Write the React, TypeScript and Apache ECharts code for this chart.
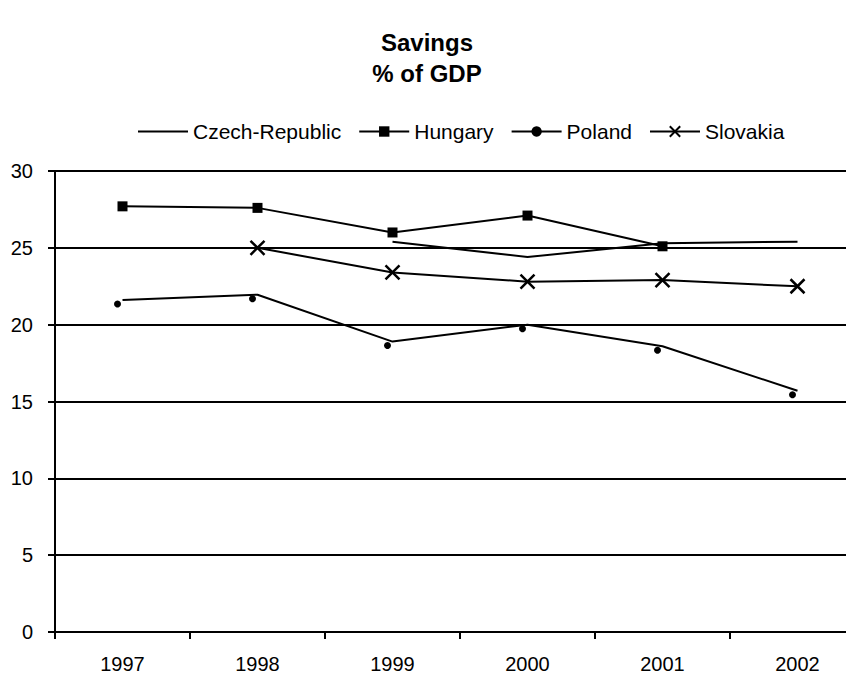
import React, { useEffect, useRef } from "react";
import * as echarts from "echarts";

const years = ["1997", "1998", "1999", "2000", "2001", "2002"];
const czech = [null, null, 25.4, 24.4, 25.3, 25.4];
const hungary = [27.7, 27.6, 26.0, 27.1, 25.1, null];
const poland = [21.6, 21.95, 18.9, 20.0, 18.6, 15.7];
const slovakia = [null, 25.0, 23.4, 22.8, 22.9, 22.5];

const FONT = "'Liberation Sans', Arial, sans-serif";

export default function App() {
  const ref = useRef<HTMLDivElement>(null);
  useEffect(() => {
    if (!ref.current) return;
    const chart = echarts.init(ref.current, null, { renderer: "svg" });
    const lineStyle = { color: "#000", width: 2 };
    chart.setOption({
      animation: false,
      backgroundColor: "#fff",
      title: {
        text: "Savings\n% of GDP",
        left: "center",
        top: 22,
        textStyle: {
          fontFamily: FONT,
          fontSize: 24,
          fontWeight: "bold",
          color: "#000",
          lineHeight: 31,
        },
      },
      legend: {
        left: 132,
        top: 116,
        itemWidth: 50,
        itemHeight: 13,
        itemGap: 17,
        textStyle: { fontFamily: FONT, fontSize: 21, color: "#000" },
        data: [
          {
            name: "Czech-Republic",
            itemStyle: { color: "rgba(0,0,0,0)", borderColor: "rgba(0,0,0,0)", borderWidth: 0 },
          },
          "Hungary",
          "Poland",
          "Slovakia",
        ],
      },
      grid: { left: 55, top: 171, right: -11, bottom: 50, outerBoundsMode: "none" },
      xAxis: {
        type: "category",
        data: years,
        boundaryGap: true,
        axisLine: { lineStyle: { color: "#000", width: 2 } },
        axisTick: { show: true, length: 7, lineStyle: { color: "#000", width: 2 } },
        axisLabel: { fontFamily: FONT, fontSize: 20, color: "#000", margin: 22 },
        splitLine: { show: false },
      },
      yAxis: {
        type: "value",
        min: 0,
        max: 30,
        interval: 5,
        axisLine: { show: true, lineStyle: { color: "#000", width: 2 } },
        axisTick: { show: true, length: 7, lineStyle: { color: "#000", width: 2 } },
        axisLabel: { fontFamily: FONT, fontSize: 20, color: "#000", margin: 22 },
        splitLine: { show: true, lineStyle: { color: "#000", width: 2 } },
      },
      series: [
        {
          name: "Czech-Republic",
          type: "line",
          data: czech,
          symbol: "none",
          lineStyle,
          itemStyle: { color: "#000" },
        },
        {
          name: "Hungary",
          type: "line",
          data: hungary,
          symbol: "rect",
          symbolSize: 10,
          lineStyle,
          itemStyle: { color: "#000" },
        },
        {
          name: "Poland",
          type: "line",
          data: poland,
          symbol: "circle",
          symbolSize: 7,
          symbolOffset: [-5, 4],
          lineStyle,
          itemStyle: { color: "#000" },
        },
        {
          name: "Slovakia",
          type: "line",
          data: slovakia,
          symbol: "path://M0,0L10,10M10,0L0,10",
          symbolSize: 14,
          lineStyle,
          itemStyle: { color: "none", borderColor: "#000", borderWidth: 2.5 },
        },
      ],
    });
    return () => chart.dispose();
  }, []);
  return <div ref={ref} style={{ width: 854, height: 682, margin: -8 }} />;
}
